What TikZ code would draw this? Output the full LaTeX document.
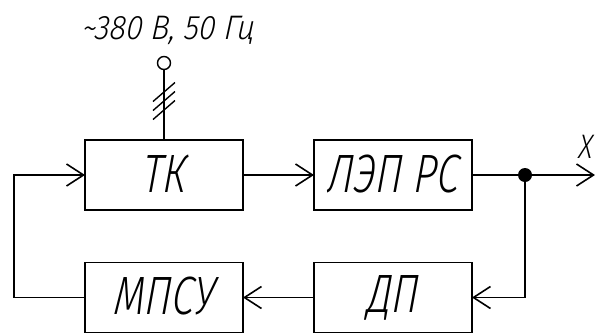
\documentclass[tikz,border=0pt]{standalone}
\usepackage{fontspec}
\setmainfont{Fira Sans}[UprightFont=* Light, ItalicFont=* Light Italic, ItalicFeatures={FakeSlant=0.1}]
\usetikzlibrary{arrows.meta}
\newcommand{\gosttext}[2][0.75]{\scalebox{#1}[1]{\itshape #2}}
\begin{document}
\begin{tikzpicture}[x=1pt,y=-1pt,
  blk/.style={draw, line width=1.6pt, minimum width=158pt, minimum height=70pt, inner sep=0pt, outer sep=0pt, font=\fontsize{54}{58}\selectfont},
  conn/.style={line width=1.6pt},
  arr/.style={conn, -{Straight Barb[length=17pt,width=22pt,line width=1.6pt]}}]
\useasboundingbox (0,0) rectangle (595,333);
\node[blk] (tk)   at (164,175)   {\raisebox{3pt}{\gosttext{ТК}}};
\node[blk] (lep)  at (393,175)   {\raisebox{3pt}{\gosttext{ЛЭП РС}}};
\node[blk] (dp)   at (393,297.5) {\raisebox{3pt}{\gosttext{ДП}}};
\node[blk] (mpsu) at (164,297.5) {\raisebox{3pt}{\gosttext{МПСУ}}};
\node[circle, draw, line width=1.4pt, minimum size=13pt, inner sep=0pt] (src) at (164,63) {};
\node[font=\fontsize{34}{36}\selectfont] (lbl) at (168,30) {\gosttext[0.9]{\textasciitilde 380 В, 50 Гц}};
\coordinate (j) at (525,175);
\coordinate (out) at (595,175);
\coordinate (left) at (14,297.5);
\node[font=\fontsize{34}{36}\selectfont] (xl) at (585,147) {\gosttext[0.8]{X}};
\draw[conn] (src.south) -- (tk.north);
\foreach \yy in {92,101,110}{
  \draw[line width=1.4pt] (153,\yy+9.5) -- (175,\yy-9.5);
}
\draw[arr] (tk.east) -- (lep.west);
\draw[arr] (lep.east) -- (out);
\fill (j) circle (7pt);
\draw[arr] (j) |- (dp.east);
\draw[arr] (dp.west) -- (mpsu.east);
\draw[arr] (mpsu.west) -- (left) |- (tk.west);
\end{tikzpicture}
\end{document}
